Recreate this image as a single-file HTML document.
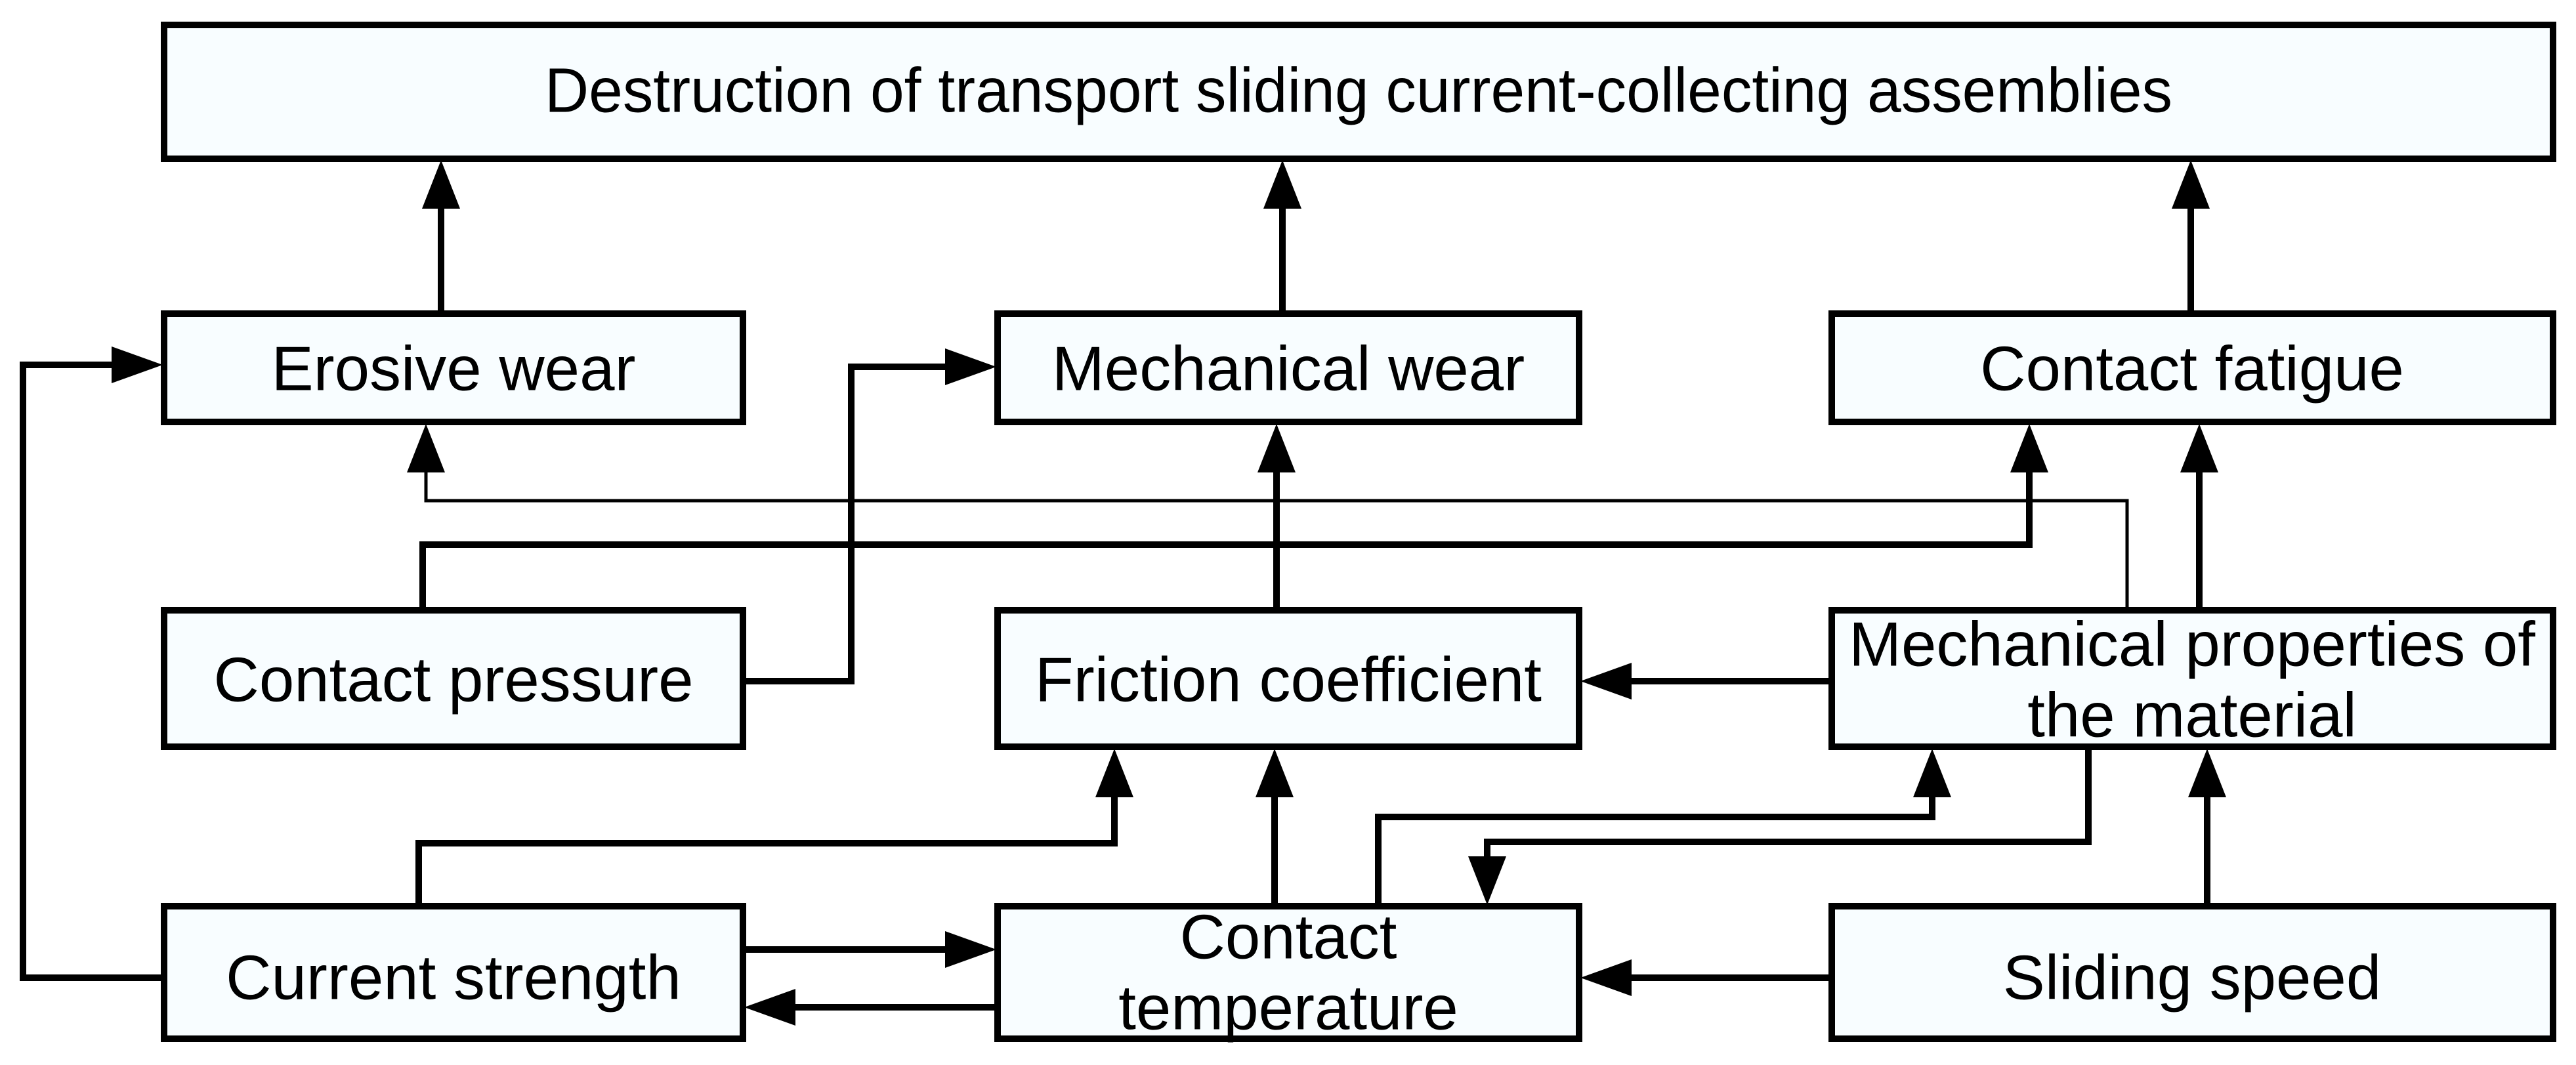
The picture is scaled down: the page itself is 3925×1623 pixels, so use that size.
<!DOCTYPE html>
<html><head><meta charset="utf-8"><style>
html,body{margin:0;padding:0;background:#fff}
svg{display:block}
text{font-family:"Liberation Sans",Arial,sans-serif;font-size:96px;fill:#000;text-anchor:middle;dominant-baseline:central}
</style></head><body>
<svg width="3925" height="1623" viewBox="0 0 3925 1623" xmlns="http://www.w3.org/2000/svg">
<g fill="#f8fdff" stroke="#000" stroke-width="10">
<rect x="250" y="38" width="3640" height="204"/>
<rect x="250" y="478" width="882" height="165"/>
<rect x="1520" y="478" width="886" height="165"/>
<rect x="2791" y="478" width="1099" height="165"/>
<rect x="250" y="930" width="882" height="208"/>
<rect x="1520" y="930" width="886" height="208"/>
<rect x="2791" y="930" width="1099" height="208"/>
<rect x="250" y="1381" width="882" height="202"/>
<rect x="1520" y="1381" width="886" height="202"/>
<rect x="2791" y="1381" width="1099" height="202"/>
</g>
<g fill="none" stroke="#000" stroke-width="10">
<line x1="672" y1="478" x2="672" y2="300"/>
<line x1="1954" y1="478" x2="1954" y2="300"/>
<line x1="3338" y1="478" x2="3338" y2="300"/>
<polyline points="250,1490 35,1490 35,556 180,556"/>
<polyline points="1132,1038 1297,1038 1297,559 1450,559"/>
<polyline points="644,930 644,830 3092,830 3092,710"/>
<line x1="1945" y1="930" x2="1945" y2="710"/>
<line x1="3351" y1="930" x2="3351" y2="710"/>
<line x1="2791" y1="1038" x2="2476" y2="1038"/>
<polyline points="638,1381 638,1285 1698,1285 1698,1205"/>
<line x1="1942" y1="1381" x2="1942" y2="1205"/>
<polyline points="2100,1381 2100,1245 2944,1245 2944,1205"/>
<polyline points="3182,1138 3182,1283 2266,1283 2266,1315"/>
<line x1="3363" y1="1381" x2="3363" y2="1205"/>
<line x1="2791" y1="1490" x2="2476" y2="1490"/>
<line x1="1132" y1="1447" x2="1450" y2="1447"/>
<line x1="1520" y1="1535" x2="1202" y2="1535"/>
</g>
<polyline points="3241,930 3241,763 649,763 649,710" fill="none" stroke="#000" stroke-width="5"/>
<g fill="#000">
<polygon points="672,244 643,318 701,318"/>
<polygon points="1954,244 1925,318 1983,318"/>
<polygon points="3338,244 3309,318 3367,318"/>
<polygon points="248,556 170,528 170,584"/>
<polygon points="1518,559 1440,531 1440,587"/>
<polygon points="649,646 620,720 678,720"/>
<polygon points="3092,646 3063,720 3121,720"/>
<polygon points="1945,646 1916,720 1974,720"/>
<polygon points="3351,646 3322,720 3380,720"/>
<polygon points="2408,1038 2486,1010 2486,1066"/>
<polygon points="1698,1141 1669,1215 1727,1215"/>
<polygon points="1942,1141 1913,1215 1971,1215"/>
<polygon points="2944,1141 2915,1215 2973,1215"/>
<polygon points="2266,1379 2237,1305 2295,1305"/>
<polygon points="3363,1141 3334,1215 3392,1215"/>
<polygon points="2408,1490 2486,1462 2486,1518"/>
<polygon points="1518,1447 1440,1419 1440,1475"/>
<polygon points="1134,1535 1212,1507 1212,1563"/>
</g>
<text x="2070" y="138" textLength="2480" lengthAdjust="spacingAndGlyphs">Destruction of transport sliding current-collecting assemblies</text>
<text x="691" y="562">Erosive wear</text>
<text x="1963" y="562">Mechanical wear</text>
<text x="3340" y="562">Contact fatigue</text>
<text x="691" y="1036">Contact pressure</text>
<text x="1963" y="1036">Friction coefficient</text>
<text x="3340" y="982">Mechanical properties of</text>
<text x="3340" y="1090">the material</text>
<text x="691" y="1490">Current strength</text>
<text x="1963" y="1428">Contact</text>
<text x="1963" y="1536">temperature</text>
<text x="3340" y="1490">Sliding speed</text>
</svg>
</body></html>
